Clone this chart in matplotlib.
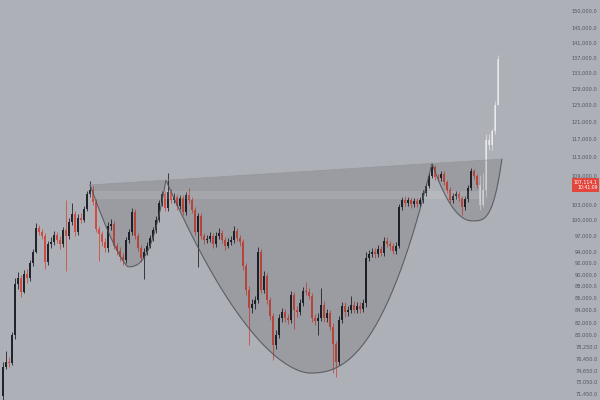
import matplotlib.pyplot as plt
import matplotlib.transforms as mtransforms
import numpy as np

# daily candles, prices in thousands
first_open = 71.2
closes = [75.3, 76.0, 75.9, 80.1, 88.4, 89.4, 87.1, 90.1, 89.4, 92.1,
          94.1, 98.5, 97.8, 97.0, 92.3, 95.5, 95.9, 97.2, 96.3, 95.5,
          98.2, 97.0, 99.7, 101.2, 97.8, 100.5, 100.1, 102.2, 105.2, 106.1,
          103.6, 98.3, 97.4, 95.9, 94.8, 98.9, 99.3, 95.2, 94.3, 93.2,
          92.6, 96.3, 97.8, 101.6, 97.0, 94.8, 93.0, 94.1, 95.2, 96.6,
          98.2, 100.1, 103.4, 105.2, 102.4, 105.6, 104.0, 104.6, 102.8, 104.4,
          101.6, 105.0, 104.0, 102.0, 97.8, 100.9, 97.0, 96.3, 96.5, 97.0,
          95.5, 97.0, 97.6, 96.3, 95.2, 95.9, 96.3, 98.0, 96.6, 95.9,
          91.5, 87.4, 84.4, 85.0, 85.7, 94.1, 87.4, 89.8, 85.7, 83.1,
          78.6, 80.1, 82.8, 83.7, 82.8, 82.5, 86.6, 84.1, 83.7, 85.2,
          87.2, 87.1, 86.4, 82.8, 82.3, 82.8, 84.9, 82.8, 83.6, 81.4,
          78.7, 76.0, 82.5, 84.7, 83.7, 84.1, 84.9, 84.1, 84.7, 84.2,
          85.2, 93.0, 93.7, 94.1, 93.7, 94.6, 93.9, 96.1, 95.5, 95.2,
          94.3, 95.2, 102.6, 104.0, 103.4, 104.0, 103.2, 103.8, 103.2, 104.0,
          105.4, 106.9, 109.0, 110.9, 108.8, 108.6, 109.4, 107.7, 106.1, 104.0,
          104.8, 105.2, 104.4, 102.6, 104.2, 106.5, 110.0, 109.0, 107.1]
highs = [76.0, 77.6, 76.8, 80.6, 89.5, 90.4, 90.0, 90.8, 91.0, 92.6,
         94.6, 99.4, 99.2, 98.4, 97.6, 96.0, 96.8, 97.9, 97.8, 97.0,
         98.8, 104.0, 100.4, 103.4, 101.8, 101.2, 101.4, 102.8, 105.8, 107.9,
         106.8, 104.2, 99.0, 98.0, 96.6, 99.6, 100.2, 99.8, 95.8, 94.9,
         93.8, 96.9, 98.4, 102.5, 102.2, 97.6, 95.4, 94.8, 95.9, 97.2,
         98.8, 100.8, 104.0, 105.9, 105.8, 109.6, 106.3, 105.4, 105.2, 105.1,
         105.0, 105.7, 106.5, 104.6, 102.6, 101.5, 101.4, 97.6, 97.3, 97.8,
         97.6, 97.7, 98.6, 98.2, 96.9, 96.6, 97.0, 99.0, 98.6, 97.2,
         96.4, 92.0, 88.0, 85.8, 86.4, 94.9, 94.6, 90.6, 90.3, 86.2,
         83.6, 80.8, 83.4, 84.4, 84.3, 83.4, 87.2, 87.1, 84.8, 85.8,
         87.9, 88.8, 87.7, 86.9, 83.4, 83.5, 87.8, 85.5, 84.3, 84.1,
         81.9, 79.2, 83.1, 85.4, 85.3, 84.8, 86.4, 85.5, 85.3, 85.3,
         85.8, 94.0, 94.4, 94.8, 94.8, 95.3, 95.2, 96.8, 96.9, 96.1,
         95.8, 95.9, 103.3, 104.7, 104.8, 104.7, 104.6, 104.5, 104.4, 104.7,
         106.0, 107.5, 109.6, 111.7, 111.4, 109.5, 110.0, 110.0, 108.2, 106.6,
         105.5, 105.9, 105.8, 104.9, 104.8, 107.1, 110.6, 110.5, 109.5]
lows = [70.5, 75.0, 75.3, 75.6, 79.5, 87.6, 86.2, 86.8, 88.6, 89.0,
        91.6, 93.8, 97.2, 96.4, 91.0, 91.8, 94.8, 95.4, 95.8, 94.6,
        95.0, 90.6, 96.5, 99.2, 97.0, 97.3, 99.4, 99.6, 101.8, 104.6,
        103.0, 97.8, 92.4, 95.2, 94.0, 94.0, 98.2, 94.6, 93.6, 92.5,
        91.8, 92.0, 95.8, 97.3, 96.5, 94.2, 92.2, 89.2, 93.5, 94.7,
        96.0, 97.6, 99.6, 102.8, 101.8, 101.9, 103.4, 103.4, 102.0, 102.2,
        101.0, 101.0, 103.4, 101.4, 97.2, 91.3, 96.4, 95.6, 95.7, 95.9,
        94.8, 95.0, 96.4, 95.7, 94.5, 94.7, 95.3, 95.8, 96.0, 95.2,
        90.8, 86.6, 78.6, 83.6, 84.2, 85.2, 86.8, 86.9, 85.0, 82.4,
        76.3, 78.0, 79.6, 82.2, 82.1, 81.8, 82.0, 81.0, 83.0, 83.2,
        84.7, 86.5, 85.8, 82.2, 81.6, 80.1, 82.3, 82.2, 82.2, 80.8,
        74.4, 73.8, 75.5, 82.0, 83.0, 83.1, 83.6, 83.5, 83.6, 83.6,
        83.7, 84.6, 92.4, 93.1, 93.0, 93.1, 93.3, 93.4, 94.9, 94.5,
        93.7, 93.7, 94.8, 102.0, 102.8, 102.8, 102.5, 102.6, 102.6, 102.7,
        103.5, 104.9, 106.4, 108.5, 108.2, 108.0, 108.0, 107.1, 105.5, 103.4,
        103.5, 104.3, 103.8, 101.0, 102.1, 103.7, 106.0, 108.4, 106.5]

# faded projection bars after the last candle
proj_open = [107.1, 103.0, 106.1, 116.9, 115.7, 118.9, 125.0]
proj_close = [103.0, 106.1, 116.9, 115.7, 118.9, 125.0, 136.6]
proj_high = [109.2, 109.6, 118.2, 118.2, 119.4, 126.0, 137.8]
proj_low = [102.0, 102.6, 104.6, 114.6, 114.6, 118.2, 125.0]

last_price = 107.1141
last_time = "10:41:09"

# price scale labels
tick_values = [150, 145, 141, 137, 133, 129, 125, 121, 117, 113, 109,
               103, 100, 97, 94, 92, 90, 88, 86, 84, 82, 80,
               78.25, 76.45, 74.65, 73.05, 71.45]

# cup & handle drawing: rims on the neckline, bottoms of the three cups
rim_idx = [29, 54.3, 143, 166.3]
rim_price = [107.1, 108.1, 111.7, 112.6]
bottom_idx = [41.7, 102.3, 156.3]
bottom_price = [91.4, 74.4, 99.9]
band_idx = [29, 159]
band_price = [104.2, 105.8]

bg = '#aeb0b7'
up_col = '#22242c'
down_col = '#cc4d42'

fig = plt.figure(figsize=(6, 4), dpi=100)
fig.patch.set_facecolor(bg)
ax = fig.add_axes([0, 0, 1, 1])
ax.set_facecolor(bg)
ax.set_yscale('log')

opens = [first_open] + closes[:-1]
x = np.arange(len(closes))
for i in x:
    o, c = opens[i], closes[i]
    col = up_col if c >= o else down_col
    ax.vlines(i, lows[i], highs[i], color=col, lw=0.6, zorder=2)
    ax.bar(i, max(abs(c - o), 0.15), bottom=min(o, c), width=0.8,
           color=col, zorder=3, linewidth=0)

px = np.arange(len(proj_close)) + len(closes)
for j, i in enumerate(px):
    o, c = proj_open[j], proj_close[j]
    ax.vlines(i, proj_low[j], proj_high[j], color='white', lw=0.6, alpha=0.55, zorder=2)
    ax.bar(i, abs(c - o), bottom=min(o, c), width=0.45, color='white',
           alpha=0.5, zorder=3, linewidth=0)

# cup outline built in (index, log price) space
def half(x0, y0, x1, y1, p, n=60):
    # from rim (x0,y0) to bottom (x1,y1)
    u = np.linspace(0, 1, n)
    xs = x0 + (x1 - x0) * u
    w = (1 - u) ** p
    ys = np.exp(np.log(y1) + (np.log(y0) - np.log(y1)) * w)
    return xs, ys

powers = [(1.3, 2.6), (1.7, 2.4), (2.0, 3.5)]
cx, cy = [], []
for k in range(3):
    a, b = half(rim_idx[k], rim_price[k], bottom_idx[k], bottom_price[k], powers[k][0])
    c2, d2 = half(rim_idx[k + 1], rim_price[k + 1], bottom_idx[k], bottom_price[k], powers[k][1])
    cx += list(a) + list(c2[::-1])
    cy += list(b) + list(d2[::-1])

poly_x = cx + [rim_idx[-1], rim_idx[0]]
poly_y = cy + [rim_price[-1], rim_price[0]]
ax.fill(poly_x, poly_y, color='black', alpha=0.11, lw=0, zorder=4)
ax.plot(cx, cy, color='#505259', lw=0.8, alpha=0.85, zorder=5)
ax.plot([rim_idx[0], rim_idx[-1]], [rim_price[0], rim_price[-1]],
        color='#95979e', lw=0.5, zorder=5)
ax.fill_between(band_idx, band_price[0], band_price[1], color='white',
                alpha=0.1, lw=0, zorder=4)

ax.set_xlim(-1, 199)
ax.set_ylim(70.62, 153.23)
ax.axis('off')

trans = mtransforms.blended_transform_factory(ax.transAxes, ax.transData)
for v in tick_values:
    ax.text(0.996, v, f"{v * 1000:,.1f}", transform=trans, ha='right',
            va='center', fontsize=3.6, color='#52555d', zorder=6)

ax.text(0.996, last_price, f"{last_price * 1000:,.1f}\n{last_time}", transform=trans,
        ha='right', va='center', fontsize=3.3, color='white', linespacing=1.1,
        zorder=7, bbox=dict(boxstyle='square,pad=0.35', fc='#e3463d', ec='none'))

fig.savefig('out.png', dpi=100, facecolor=bg)
